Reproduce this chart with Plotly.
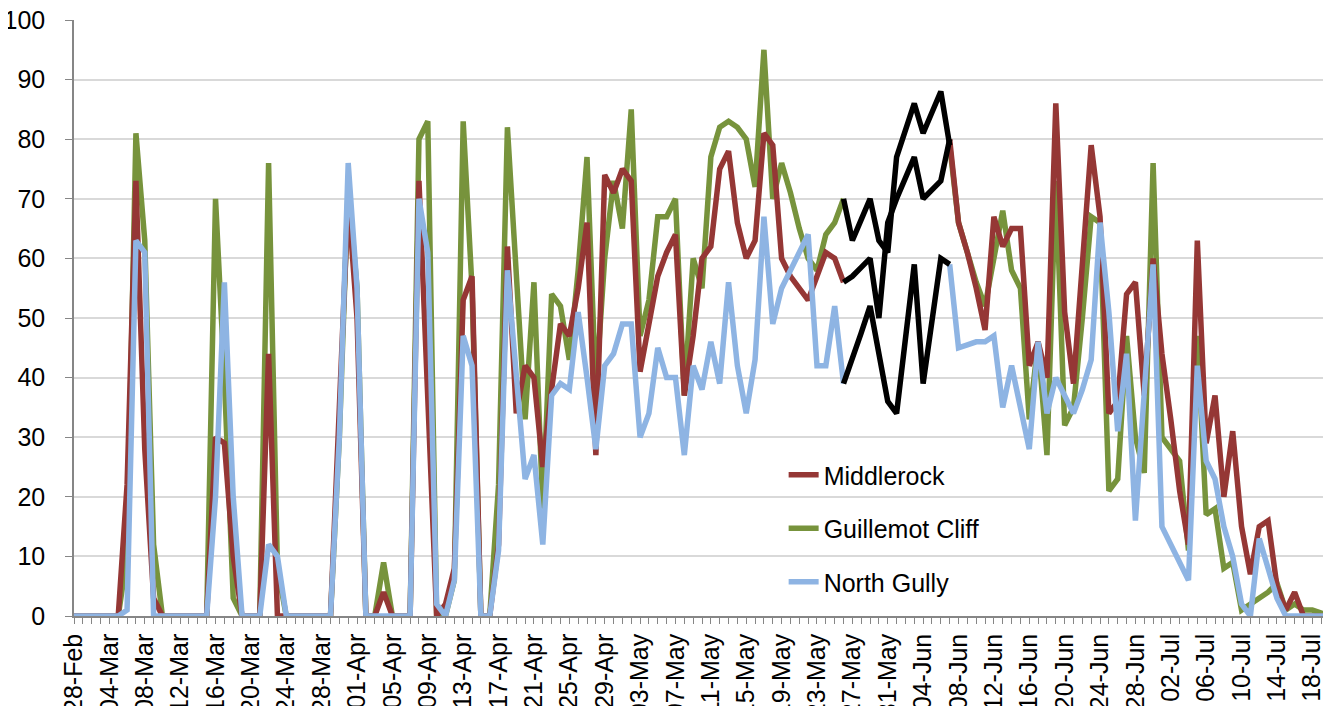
import pandas as pd
import plotly.graph_objects as go

# Categories: one point per day, 28-Feb .. 20-Jul
dates = pd.date_range("2013-02-28", "2013-07-20", freq="D")
tick_labels_every = 4  # days between labelled ticks

N = None
middlerock = [
    0, 0, 0, 0, 0, 0, 22, 73, 28, 3,
    0, 0, 0, 0, 0, 0, 30, 29, 10, 0,
    0, 0, 44, 0, 0, 0, 0, 0, 0, 0,
    35, 70, 50, 0, 0, 4, 0, 0, 0, 73,
    35, 0, 2, 8, 53, 57, 0, 0, 12, 62,
    34, 42, 40, 25, 38, 49, 47, 55, 66, 27,
    74, 71, 75, 73, 41, 49, 57, 61, 64, 37,
    47, 60, 62, 75, 78, 66, 60, 63, 81, 79,
    60, 57, 55, 53, 57, 61, 60, 56, N, N,
    N, N, N, N, N, N, N, N, N, 80,
    66, 61, 55, 48, 67, 62, 65, 65, 42, 46,
    40, 86, 51, 39, 59, 79, 67, 34, 36, 54,
    56, 37, 60, 44, 33, 21, 12, 63, 29, 37,
    20, 31, 15, 7, 15, 16, 5, 1, 4, 0,
    0, 0, 0,
]
guillemot = [
    0, 0, 0, 0, 0, 0, 10, 81, 63, 12,
    0, 0, 0, 0, 0, 0, 70, 40, 3, 0,
    0, 0, 76, 8, 0, 0, 0, 0, 0, 0,
    30, 72, 55, 0, 0, 9, 0, 0, 0, 80,
    83, 0, 0, 6, 83, 55, 0, 0, 22, 82,
    57, 33, 56, 18, 54, 52, 43, 58, 77, 38,
    60, 73, 65, 85, 47, 53, 67, 67, 70, 37,
    60, 55, 77, 82, 83, 82, 80, 72, 95, 70,
    76, 71, 65, 60, 58, 64, 66, 70, N, N,
    N, N, N, N, N, N, N, N, N, 79,
    66, 61, 56, 52, 60, 68, 58, 55, 33, 46,
    27, 73, 32, 35, 50, 67, 66, 21, 23, 47,
    30, 24, 76, 30, 28, 26, 11, 47, 17, 18,
    8, 9, 1, 2, 3, 4, 5.5, 1, 2, 1,
    1, 0.5, 0,
]
north_gully = [
    0, 0, 0, 0, 0, 0, 1, 63, 61, 0,
    0, 0, 0, 0, 0, 0, 20, 56, 20, 0,
    0, 0, 12, 10, 0, 0, 0, 0, 0, 0,
    30, 76, 55, 0, 0, 0, 0, 0, 0, 70,
    61, 2, 0, 6, 47, 42, 0, 0, 11, 58,
    40, 23, 27, 12, 37, 39, 38, 51, 40, 28,
    42, 44, 49, 49, 30, 34, 45, 40, 40, 27,
    42, 38, 46, 39, 56, 42, 34, 43, 67, 49,
    55, 58, 61, 64, 42, 42, 52, 39, N, N,
    N, N, N, N, N, N, N, N, N, 59,
    45, 45.5, 46, 46, 47, 35, 42, 35, 28, 46,
    34, 40, 37, 34, 38, 43, 66, 51, 31, 44,
    16, 37, 59, 15, 12, 9, 6, 42, 26, 23,
    15, 10, 2, 0, 13, 8, 3, 0, 0, 0,
    0, 0, 0,
]

# Gap period (27-May .. 07-Jun) drawn in black for each colony
gap_start, gap_end = 87, 99
gap_guillemot = [70, 63, 66.5, 70, 63, 61, 77, 81.5, 86, 81, 84.5, 88, 79]
gap_middlerock = [56, 57, 58.5, 60, 50, 66, 70, 73.5, 77, 70, 71.5, 73, 80]
gap_north_gully = [39, 43, 47.5, 52, 44, 36, 34, 46.5, 59, 39, 49.5, 60, 59]

assert len(middlerock) == len(dates) == len(guillemot) == len(north_gully)

RED = "#953735"
GREEN = "#77933C"
BLUE = "#8EB4E3"
LW = 5.5
FONT = "Liberation Sans, Arial, sans-serif"

fig = go.Figure()
fig.add_trace(go.Scatter(x=dates, y=guillemot, mode="lines", name="Guillemot Cliff",
                         line=dict(color=GREEN, width=LW), legendrank=2, legendgroup="g2"))
fig.add_trace(go.Scatter(x=dates, y=middlerock, mode="lines", name="Middlerock",
                         line=dict(color=RED, width=LW), legendrank=1, legendgroup="g1"))
fig.add_trace(go.Scatter(x=dates, y=north_gully, mode="lines", name="North Gully",
                         line=dict(color=BLUE, width=LW), legendrank=3, legendgroup="g3"))
gap_dates = dates[gap_start:gap_end + 1]
for g in (gap_guillemot, gap_middlerock, gap_north_gully):
    fig.add_trace(go.Scatter(x=gap_dates, y=g, mode="lines", showlegend=False,
                             line=dict(color="black", width=LW)))

DAY = 86400000
fig.update_layout(
    width=1323, height=698,
    margin=dict(l=66, r=1, t=12, b=90),
    paper_bgcolor="white", plot_bgcolor="white",
    font=dict(family=FONT, size=25, color="black"),
    showlegend=True,
    legend=dict(x=0.565, y=0.275, xanchor="left", yanchor="top",
                bgcolor="rgba(0,0,0,0)", font=dict(size=25),
                tracegroupgap=18, traceorder="grouped"),
    xaxis=dict(
        type="date", range=[dates[0], dates[-1]], automargin=False,
        tick0=dates[0], dtick=tick_labels_every * DAY, tickformat="%d-%b",
        tickangle=-90, ticks="outside", ticklen=6, tickcolor="#868686",
        showline=True, linecolor="#868686", linewidth=1.5, showgrid=False,
        zeroline=False, tickfont=dict(size=25), ticklabeloverflow="allow",
        minor=dict(dtick=DAY, ticks="outside", ticklen=6, tickcolor="#868686", showgrid=False),
    ),
    yaxis=dict(
        range=[0, 100], dtick=10, ticks="outside", ticklen=7, tickcolor="#868686",
        showline=True, linecolor="#868686", linewidth=1.5, automargin=False,
        showgrid=True, gridcolor="#D9D9D9", gridwidth=1.5, zeroline=False,
        tickfont=dict(size=25), ticklabelstandoff=15, ticklabeloverflow="allow",
    ),
)

fig.write_html("out.html")
